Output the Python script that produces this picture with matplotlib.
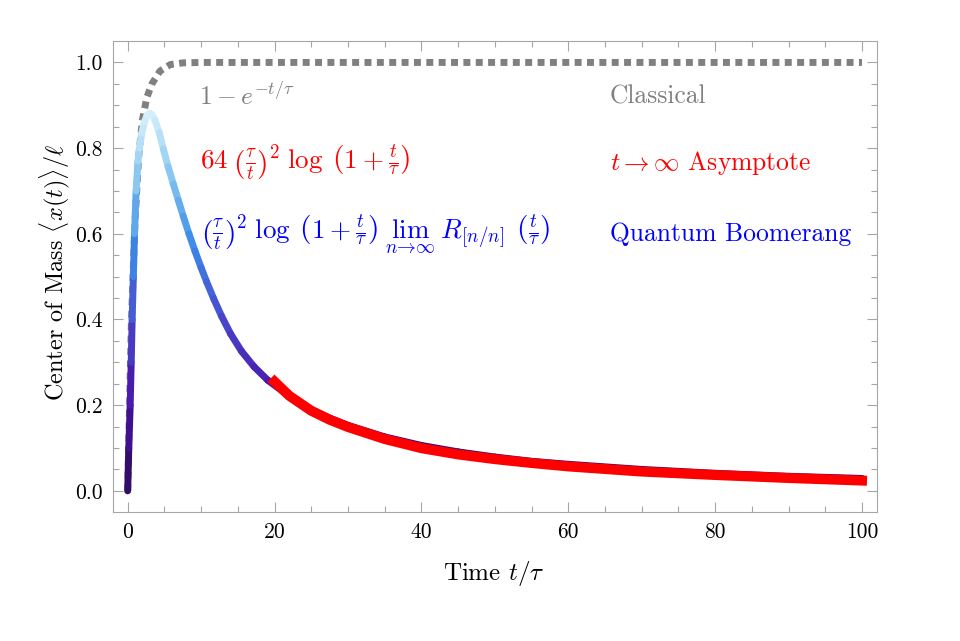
import numpy as np
import matplotlib
matplotlib.use('Agg')
import matplotlib.pyplot as plt
from matplotlib.collections import LineCollection
from matplotlib.colors import LinearSegmentedColormap

plt.rcParams['font.family'] = 'serif'
plt.rcParams['font.serif'] = ['cmr10']
plt.rcParams['mathtext.fontset'] = 'cm'
plt.rcParams['axes.formatter.use_mathtext'] = True

# classical curve 1 - exp(-t/tau)
t_classical = [0.0, 0.5, 1.0, 1.5, 2.0, 2.6, 3.3, 4.4, 5.8, 7.5, 10.0, 100.0]
y_classical = [0.0, 0.39, 0.63, 0.78, 0.865, 0.918, 0.95, 0.98, 0.995, 0.999, 1.0, 1.0]

# quantum boomerang curve
t_boom = [0.0, 0.15, 0.34, 0.48, 0.61, 0.77, 0.93, 1.15, 1.40, 1.60, 1.92, 2.30, 2.65,
          2.96, 3.30, 3.70, 4.30, 4.86, 5.50, 6.22, 6.90, 7.57, 8.35, 9.16, 10.0, 10.75,
          11.7, 12.78, 14.0, 15.5, 17.2, 19.1, 22.0, 25.0, 27.5, 30.0, 35.0, 40.0, 45.0,
          50.0, 55.0, 60.0, 70.0, 80.0, 90.0, 100.0]
y_boom = [0.0, 0.10, 0.20, 0.30, 0.40, 0.50, 0.60, 0.70, 0.77, 0.80, 0.835, 0.862, 0.877,
          0.882, 0.878, 0.866, 0.836, 0.798, 0.757, 0.716, 0.678, 0.641, 0.600, 0.560, 0.521,
          0.488, 0.449, 0.408, 0.367, 0.326, 0.290, 0.258, 0.221, 0.190, 0.170, 0.153, 0.126,
          0.106, 0.091, 0.079, 0.069, 0.062, 0.050, 0.041, 0.034, 0.029]

# t -> infinity asymptote
t_asym = [20.0, 22.0, 25.0, 27.5, 30.0, 35.0, 40.0, 45.0, 50.0, 55.0, 60.0, 70.0, 80.0,
          90.0, 100.0]
y_asym = [0.255, 0.222, 0.187, 0.166, 0.149, 0.121, 0.0996, 0.085, 0.074, 0.065, 0.057,
          0.045, 0.037, 0.030, 0.024]

x_ticks = [0, 20, 40, 60, 80, 100]
y_ticks = [0.0, 0.2, 0.4, 0.6, 0.8, 1.0]

deep_sea = LinearSegmentedColormap.from_list('deepsea', [
    (0.0, '#2b0b57'), (0.25, '#4a14a8'), (0.45, '#4848cc'),
    (0.65, '#3b8ce8'), (0.85, '#90cdf2'), (1.0, '#d8f0fb')])

fig = plt.figure(figsize=(9.6, 6.41), dpi=100)
ax = fig.add_axes([0.1174, 0.2008, 0.7961, 0.7352])

gray = (0.5, 0.5, 0.5)
ax.plot(t_classical, y_classical, color=gray, lw=5.0, linestyle=(0, (1.0, 0.78)),
        dash_capstyle='butt', zorder=2)

# gradient coloured boomerang, colour follows the height of the curve
pts = np.column_stack([t_boom, y_boom])
segs = np.stack([pts[:-1], pts[1:]], axis=1)
mid_y = 0.5 * (pts[:-1, 1] + pts[1:, 1])
lc = LineCollection(segs, cmap=deep_sea, norm=plt.Normalize(0, max(y_boom)),
                    linewidths=5.0, capstyle='round', joinstyle='round', zorder=3)
lc.set_array(mid_y)
ax.add_collection(lc)

ax.plot(t_asym, y_asym, color='#ff0000', lw=7.2, solid_capstyle='projecting',
        solid_joinstyle='round', zorder=4)

ax.set_xlim(-2.04, 102.04)
ax.set_ylim(-0.05, 1.05)
ax.set_xticks(x_ticks)
ax.set_xticklabels([str(v) for v in x_ticks])
ax.set_yticks(y_ticks)
ax.set_yticklabels(['%.1f' % v for v in y_ticks])
ax.set_xticks(np.arange(0, 101, 5), minor=True)
ax.set_yticks(np.arange(0, 1.01, 0.05), minor=True)
frame_col = '#a6a6a6'
for s in ax.spines.values():
    s.set_color(frame_col)
    s.set_linewidth(0.8)
ax.tick_params(which='both', direction='in', top=True, right=True, color=frame_col,
               labelsize=15.5, labelcolor='black', width=0.8)
ax.tick_params(which='major', length=7, pad=7)
ax.tick_params(which='minor', length=4)

fig.text(0.514, 0.106, r'Time $t/\tau$', fontsize=18, ha='center', va='center')
fig.text(0.057, 0.575, r'Center of Mass $\langle x(t)\rangle/\ell$', fontsize=17.5,
         ha='center', va='center', rotation=90)

fs = 18.4
fs_eq = 19.5
ax.text(9.7, 0.92, r'$1-e^{-t/\tau}$', color=gray, fontsize=fs, va='center')
ax.text(65.7, 0.92, 'Classical', color=gray, fontsize=fs, va='center')
ax.text(9.9, 0.765,
        r'$64\;\left(\frac{\tau}{t}\right)^2\;\log\;\left(1+\frac{t}{\tau}\right)$',
        color='#ff0000', fontsize=fs_eq, va='center')
ax.text(65.7, 0.765, r'$t\to\infty$ Asymptote', color='#ff0000', fontsize=fs, va='center')
ax.text(10.0, 0.60, r'$\left(\frac{\tau}{t}\right)^2\;\log\;\left(1+\frac{t}{\tau}\right)'
        r'\;\lim_{n\to\infty}\;R_{[n/n]}\;\left(\frac{t}{\tau}\right)$',
        color='#0000ff', fontsize=fs_eq, va='center')
ax.text(65.7, 0.60, 'Quantum Boomerang', color='#0000ff', fontsize=fs, va='center')

fig.savefig('out.png', dpi=100)
